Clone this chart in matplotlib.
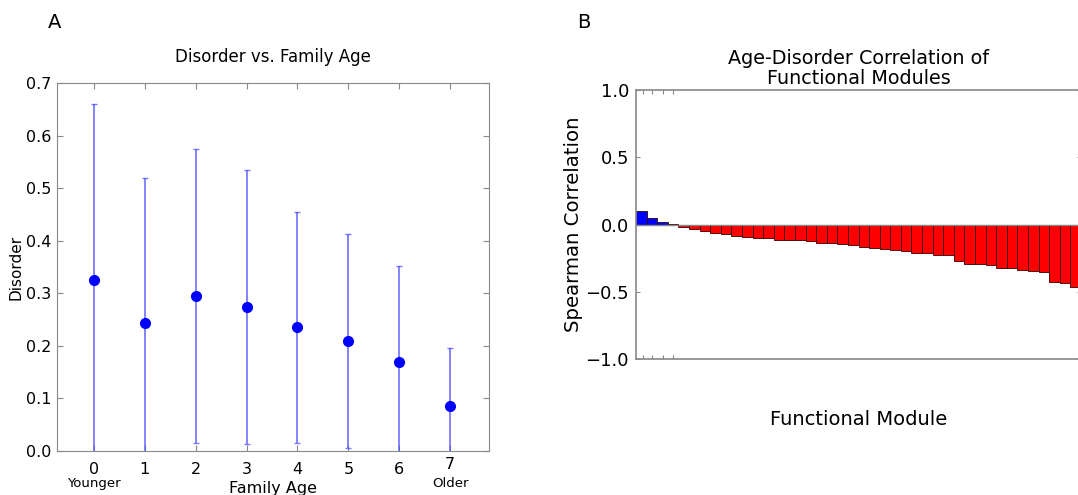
import matplotlib
matplotlib.use("Agg")
import matplotlib.pyplot as plt
import numpy as np

# Panel A: disorder vs family age
ages = [0, 1, 2, 3, 4, 5, 6, 7]
disorder_mean = [0.325, 0.243, 0.295, 0.274, 0.235, 0.209, 0.169, 0.085]
disorder_err = [0.335, 0.277, 0.279, 0.261, 0.220, 0.204, 0.182, 0.111]

# Panel B: spearman correlation per functional module (sorted)
module_corr = [0.097, 0.045, 0.020, 0.005, -0.020, -0.032, -0.047, -0.062,
               -0.067, -0.087, -0.092, -0.099, -0.099, -0.114, -0.114, -0.114,
               -0.121, -0.134, -0.141, -0.146, -0.149, -0.166, -0.176, -0.181,
               -0.188, -0.200, -0.208, -0.213, -0.228, -0.228, -0.270, -0.295,
               -0.295, -0.300, -0.320, -0.325, -0.337, -0.344, -0.356, -0.430,
               -0.438, -0.468]

spine_col = "#888888"

fig = plt.figure(figsize=(10.78, 4.95), dpi=100)

# ---- panel A ----
ax1 = fig.add_axes([0.0529, 0.0889, 0.4007, 0.7434])
ax1.errorbar(ages, disorder_mean, yerr=disorder_err, fmt="o", color="blue",
             ecolor=(0.3, 0.3, 1.0, 0.75), elinewidth=1.3, capsize=2,
             markersize=7)
ax1.set_xlim(-0.72, 7.76)
ax1.set_ylim(0, 0.7)
ax1.set_xticks(ages)
ax1.set_yticks(np.arange(0, 0.71, 0.1))
ax1.tick_params(direction="in", top=True, right=True, labelsize=11.5,
                color=spine_col, length=4)
ax1.tick_params(axis="x", pad=8)
ax1.tick_params(axis="y", pad=4)
for s in ax1.spines.values():
    s.set_color(spine_col)
ax1.get_xticklabels()[7].set_y(0.013)
ax1.set_title("Disorder vs. Family Age", fontsize=12, pad=15)
ax1.set_ylabel("Disorder", fontsize=11, labelpad=2)
ax1.set_xlabel("Family Age", fontsize=11.5, labelpad=3)
ax1.text(0, -0.061, "Younger", ha="center", va="center", fontsize=9.5)
ax1.text(7, -0.061, "Older", ha="center", va="center", fontsize=9.5)
fig.text(0.044, 0.955, "A", fontsize=14, va="center")

# ---- panel B ----
ax2 = fig.add_axes([0.59, 0.2747, 0.4128, 0.5434])
xs = np.arange(len(module_corr))
cols = ["blue" if v > 0.01 else "red" for v in module_corr]
ax2.bar(xs, module_corr, width=1.0, align="edge", color=cols,
        edgecolor="#330000", linewidth=0.6)
ax2.axhline(0, color=spine_col, linewidth=1)
ax2.set_xlim(0, len(module_corr))
ax2.set_ylim(-1, 1)
ax2.set_yticks([-1.0, -0.5, 0.0, 0.5, 1.0])
ax2.set_yticklabels(["\u22121.0", "\u22120.5", "0.0", "0.5", "1.0"])
ax2.set_xticks([0.7, 1.5, 2.5, 3.5])
ax2.set_xticklabels([])
ax2.tick_params(direction="in", top=True, right=True, labelsize=13,
                color=spine_col, length=3, pad=5)
for s in ax2.spines.values():
    s.set_color(spine_col)
    s.set_linewidth(1.2)
ax2.set_title("Age-Disorder Correlation of\nFunctional Modules", fontsize=13.8,
              pad=4, linespacing=1.12)
ax2.set_ylabel("Spearman Correlation", fontsize=14.2, labelpad=2)
ax2.set_xlabel("Functional Module", fontsize=14, labelpad=32)
fig.text(0.535, 0.955, "B", fontsize=14, va="center")

fig.savefig("out.png", dpi=100)
